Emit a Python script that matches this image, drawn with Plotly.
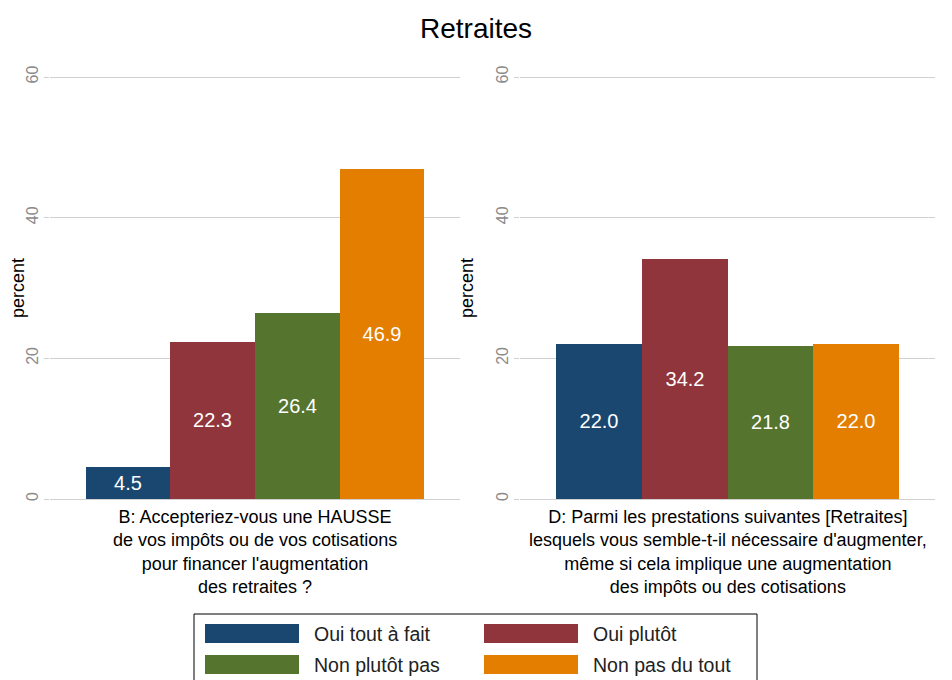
import plotly.graph_objects as go

OFF = 8                      # default page body margin
W, H = 952 - OFF, 680 - OFF  # figure size so it fits in the window

categories = ["Oui tout à fait", "Oui plutôt", "Non plutôt pas", "Non pas du tout"]
colors = ["#1a476f", "#90353b", "#55752f", "#e37e00"]
values_B = [4.5, 22.3, 26.4, 46.9]
values_D = [22.0, 34.2, 21.8, 22.0]
label_B = ["B: Accepteriez-vous une HAUSSE",
           "de vos impôts ou de vos cotisations",
           "pour financer l'augmentation",
           "des retraites ?"]
label_D = ["D: Parmi les prestations suivantes [Retraites]",
           "lesquels vous semble-t-il nécessaire d'augmenter,",
           "même si cela implique une augmentation",
           "des impôts ou des cotisations"]
yticks = [0, 20, 40, 60]
title = "Retraites"

FONT = "Liberation Sans, Arial, sans-serif"

def px(x):
    return (x - OFF) / W

def py(y):
    return 1 - (y - OFF) / H

fig = go.Figure()
for vals, xa, ya in [(values_B, "x", "y"), (values_D, "x2", "y2")]:
    fig.add_trace(go.Bar(
        x=list(range(len(categories))), y=vals, width=1,
        marker=dict(color=colors, line=dict(width=0)),
        text=[f"{v:.1f}" for v in vals], textposition="inside",
        insidetextanchor="middle", textangle=0,
        textfont=dict(color="white", size=20, family=FONT),
        xaxis=xa, yaxis=ya, showlegend=False, hoverinfo="skip",
    ))

pad = 0.3 * (499 - 77) / 60
ydom = [py(499 + pad), py(77 - pad)]
xcommon = dict(range=[-0.92, 3.92], showticklabels=False, showgrid=False,
               zeroline=False, showline=False, ticks="", fixedrange=True,
               automargin=False)
ycommon = dict(range=[-0.3, 60.3], tickvals=yticks, tickangle=-90,
               tickfont=dict(size=16, color="#8a8a8a", family=FONT),
               showgrid=True, gridcolor="#d0d0d0", gridwidth=1,
               zeroline=True, zerolinecolor="#d0d0d0", zerolinewidth=1,
               showline=False, ticks="outside", ticklen=5, tickcolor="#d0d0d0",
               title=dict(text="percent", font=dict(size=18, color="black", family=FONT)),
               automargin=False, domain=ydom)

fig.update_layout(
    width=W, height=H,
    margin=dict(l=0, r=0, t=0, b=0, pad=0, autoexpand=False),
    paper_bgcolor="white", plot_bgcolor="white",
    font=dict(family=FONT),
    bargap=0,
    showlegend=False,
    xaxis=dict(domain=[px(50), px(460)], anchor="y", **xcommon),
    xaxis2=dict(domain=[px(520), px(935)], anchor="y2", **xcommon),
    yaxis=dict(anchor="x", **ycommon),
    yaxis2=dict(anchor="x2", **ycommon),
)

fig.add_annotation(text=title, x=px(476), y=py(28), xref="paper", yref="paper",
                   showarrow=False, font=dict(size=28, color="black", family=FONT),
                   xanchor="center", yanchor="middle")

for lines, xr in [(label_B, "x domain"), (label_D, "x2 domain")]:
    fig.add_annotation(text="<br>".join(lines), x=0.5, xref=xr, y=py(505), yref="paper",
                       showarrow=False, xanchor="center", yanchor="top", align="center",
                       font=dict(size=18, color="black", family=FONT))

# Legend (manual, Stata-style wide swatches)
fig.add_shape(type="rect", xref="paper", yref="paper",
              x0=px(194), x1=px(757), y0=py(700), y1=py(614),
              line=dict(color="black", width=1), fillcolor="white", layer="below")
col_x = [205, 484]
row_y = [624, 655]
for i, (cat, col) in enumerate(zip(categories, colors)):
    cx = col_x[i % 2]
    ry = row_y[i // 2]
    fig.add_shape(type="rect", xref="paper", yref="paper",
                  x0=px(cx), x1=px(cx + 94), y0=py(ry + 19), y1=py(ry),
                  line=dict(width=0), fillcolor=col)
    fig.add_annotation(text=cat, x=px(cx + 107), y=py(ry + 10), xref="paper", yref="paper",
                       showarrow=False, xanchor="left", yanchor="middle",
                       font=dict(size=19.5, color="#222222", family=FONT))

fig.write_html("out.html")
